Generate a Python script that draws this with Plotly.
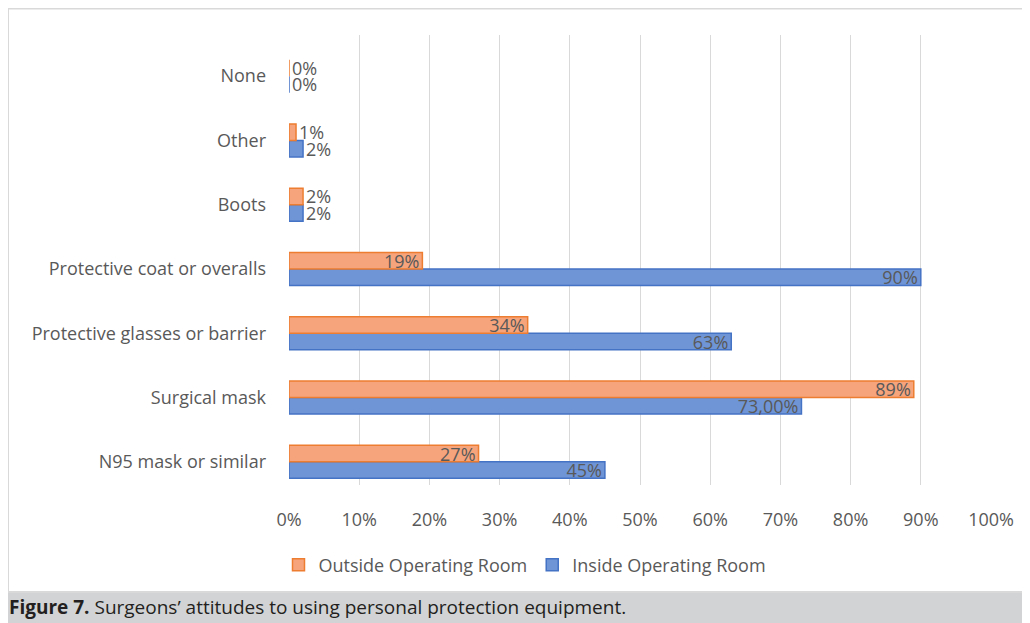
import plotly.graph_objects as go

categories = ["N95 mask or similar", "Surgical mask", "Protective glasses or barrier",
              "Protective coat or overalls", "Boots", "Other", "None"]
inside_values = [45, 73, 63, 90, 2, 2, 0]
outside_values = [27, 89, 34, 19, 2, 1, 0]
inside_labels = ["45%", "73,00%", "63%", "90%", "2%", "2%", "0%"]
outside_labels = ["27%", "89%", "34%", "19%", "2%", "1%", "0%"]
x_ticks = [0, 10, 20, 30, 40, 50, 60, 70, 80, 90, 100]
x_tick_labels = [f"{t}%" for t in x_ticks]

OFF = 8  # page body margin
W, H = 1030 - OFF, 623 - OFF
# plot area in page pixels
PL, PR, PT, PB = 289, 991, 35, 485
L, R, T, B = PL - OFF, PR - OFF, PT - OFF, PB - OFF


def px(x_page):
    return (x_page - PL) / (PR - PL)


def py(y_page):
    return (PB - y_page) / (PB - PT)


FONT = "Open Sans"
GRAY = "#595959"
FS = 18


def pos(vals):
    return ["inside" if v >= 10 else "outside" for v in vals]


fig = go.Figure()
fig.add_trace(go.Bar(
    y=categories, x=inside_values, orientation="h", name="Inside Operating Room",
    marker=dict(color="#6f95d6", line=dict(color="#4472c4", width=1.5)),
    text=inside_labels, textposition=pos(inside_values), insidetextanchor="end",
    textfont=dict(family=FONT, size=FS, color=GRAY), constraintext="none",
    cliponaxis=False,
))
fig.add_trace(go.Bar(
    y=categories, x=outside_values, orientation="h", name="Outside Operating Room",
    marker=dict(color="#f6a47c", line=dict(color="#ed7d31", width=1.5)),
    text=outside_labels, textposition=pos(outside_values), insidetextanchor="end",
    textfont=dict(family=FONT, size=FS, color=GRAY), constraintext="none",
    cliponaxis=False,
))

shapes = [
    # chart box
    dict(type="rect", xref="paper", yref="paper", x0=px(8), x1=px(1045), y0=py(592), y1=py(8.5),
         line=dict(color="#d9d9d9", width=2), fillcolor="rgba(0,0,0,0)", layer="below"),
    # caption band
    dict(type="rect", xref="paper", yref="paper", x0=px(0), x1=px(1045), y0=py(640), y1=py(593),
         line=dict(width=0), fillcolor="#d2d3d5", layer="below"),
]

fig.update_layout(
    width=W, height=H,
    margin=dict(l=L, r=W - R, t=T, b=H - B, pad=0),
    paper_bgcolor="white", plot_bgcolor="white",
    barmode="group", bargap=0.487, bargroupgap=0,
    font=dict(family=FONT, size=FS, color=GRAY),
    xaxis=dict(range=[0, 100], tickvals=x_ticks, ticktext=x_tick_labels,
               showgrid=True, gridcolor="#d9d9d9", gridwidth=1, zeroline=False,
               showline=False, ticks="", ticklabelstandoff=22,
               tickfont=dict(family=FONT, size=FS, color=GRAY), fixedrange=True),
    yaxis=dict(categoryorder="array", categoryarray=categories, range=[-0.36, 6.64],
               showgrid=False, zeroline=False, showline=False, ticks="",
               ticklabelstandoff=22, tickfont=dict(family=FONT, size=FS, color=GRAY)),
    legend=dict(orientation="h", traceorder="reversed", x=px(525), y=py(565),
                xanchor="center", yanchor="middle",
                font=dict(family=FONT, size=FS, color=GRAY), itemwidth=30),
    showlegend=True,
    shapes=shapes,
    annotations=[dict(
        xref="paper", yref="paper", x=px(7), y=py(607), xanchor="left", yanchor="middle",
        text="<b>Figure 7.</b> Surgeons’ attitudes to using personal protection equipment.",
        showarrow=False, font=dict(family=FONT, size=19, color="#231f20"),
    )],
)

fig.write_html("out.html")
